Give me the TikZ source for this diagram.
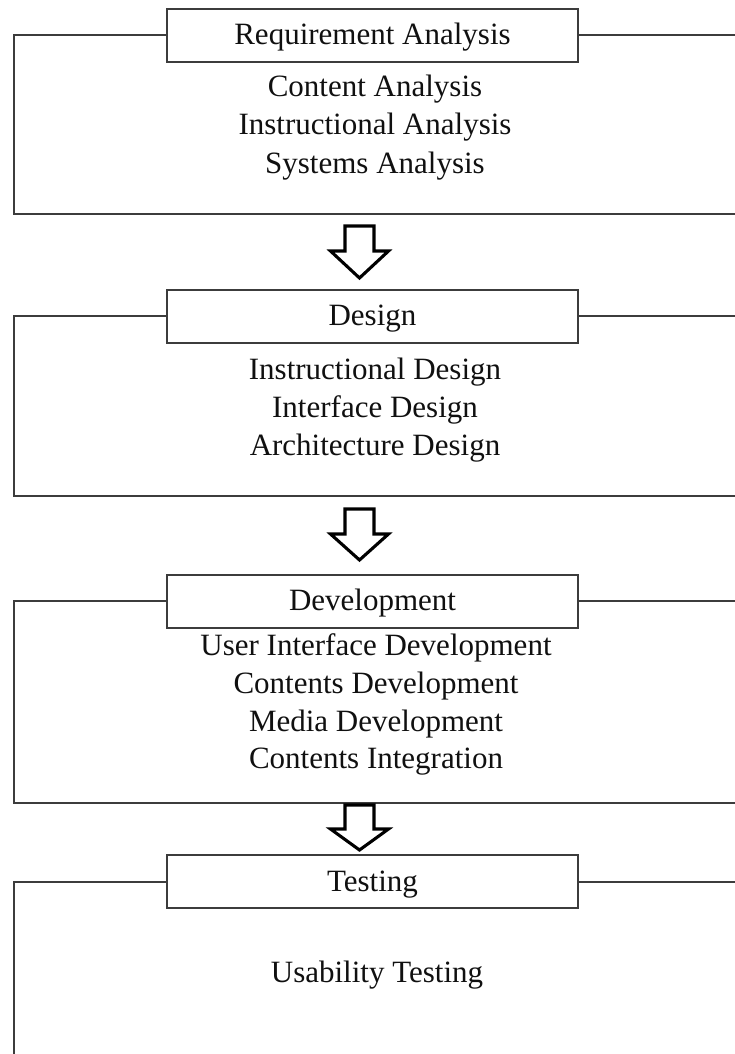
\documentclass[tikz,border=0pt]{standalone}
\usepackage{fontspec}
\setmainfont{Liberation Serif}
\definecolor{framegray}{HTML}{3C3C3C}
\definecolor{inkc}{HTML}{101010}
\newcommand\myblockarrow[3]{%
  \draw[arrowshape] (345,#1) -- (374,#1) -- (374,#2) -- (388.5,#2) -- (359.5,#3) -- (330.5,#2) -- (345,#2) -- cycle;}
\begin{document}
\begin{tikzpicture}[x=1pt,y=-1pt,
  frame/.style={draw=framegray,line width=2pt},
  titlebox/.style={draw=framegray,line width=2pt,fill=white,minimum width=411pt,minimum height=53pt,inner sep=0pt,text height=22pt,text depth=3pt,text=inkc,font=\fontsize{31}{38}\selectfont},
  item/.style={anchor=base,inner sep=0pt,text=inkc,font=\fontsize{31}{38}\selectfont},
  arrowshape/.style={draw=black,line width=3.1pt,fill=white,line join=miter}]
\useasboundingbox (0,0) rectangle (735,1054);
% box 1
\node[titlebox] (t1) at (372.5,35.5) {Requirement Analysis};
\draw[frame] (t1.west) -| (13.5,214) -- (740,214);
\draw[frame] (t1.east) -- (740,35.5);
\node[item] (a1) at (375,97) {Content Analysis};
\node[item] (a2) at (375,135) {Instructional Analysis};
\node[item] (a3) at (375,173) {Systems Analysis};
\myblockarrow{226}{251}{278}
% box 2
\node[titlebox] (t2) at (372.5,316) {Design};
\draw[frame] (t2.west) -| (13.5,496) -- (740,496);
\draw[frame] (t2.east) -- (740,316);
\node[item] (b1) at (375,379) {Instructional Design};
\node[item] (b2) at (375,417) {Interface Design};
\node[item] (b3) at (375,455) {Architecture Design};
\myblockarrow{509}{534}{560}
% box 3
\node[titlebox] (t3) at (372.5,601) {Development};
\draw[frame] (t3.west) -| (13.5,803) -- (740,803);
\draw[frame] (t3.east) -- (740,601);
\node[item] (c1) at (376,655) {User Interface Development};
\node[item] (c2) at (376,693) {Contents Development};
\node[item] (c3) at (376,731) {Media Development};
\node[item] (c4) at (376,768) {Contents Integration};
\myblockarrow{805}{829}{850}
% box 4
\node[titlebox] (t4) at (372.5,881.5) {Testing};
\draw[frame] (t4.west) -| (13.5,1060);
\draw[frame] (t4.east) -- (740,881.5);
\node[item] (d1) at (377,982) {Usability Testing};
\end{tikzpicture}
\end{document}
